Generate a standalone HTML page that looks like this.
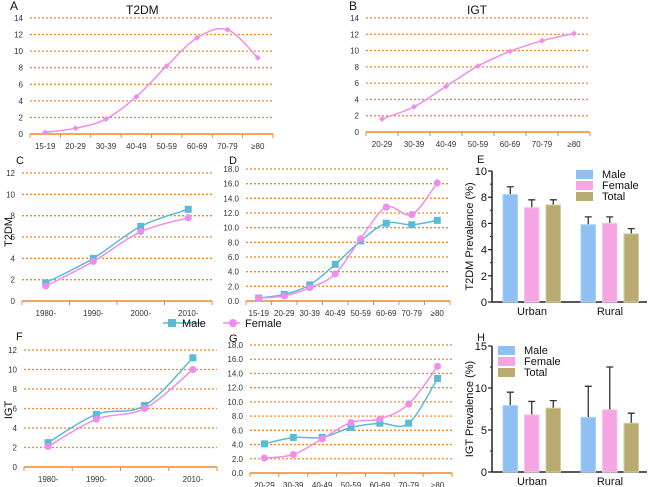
<!DOCTYPE html>
<html><head><meta charset="utf-8"><style>
body{margin:0;background:#fff}
svg{display:block;font-family:"Liberation Sans",sans-serif}
</style></head><body>
<svg id="fig" width="650" height="487" viewBox="0 0 650 487"></svg>
<script>
const agesA=["15-19","20-29","30-39","40-49","50-59","60-69","70-79","≥80"];
const t2dmA=[0.2,0.7,1.8,4.5,8.2,11.6,12.6,9.2];
const agesB=["20-29","30-39","40-49","50-59","60-69","70-79","≥80"];
const igtB=[1.6,3.1,5.6,8.1,9.9,11.2,12.1];
const decades=["1980-","1990-","2000-","2010-"];
const t2dmCMale=[1.7,4.0,7.0,8.6];
const t2dmCFemale=[1.4,3.7,6.5,7.8];
const t2dmDMale=[0.4,0.9,2.2,5.0,8.2,10.6,10.4,11.0];
const t2dmDFemale=[0.4,0.7,1.8,3.7,8.5,12.8,11.8,16.1];
const igtFMale=[2.5,5.4,6.3,11.2];
const igtFFemale=[2.1,4.9,6.0,10.0];
const igtGMale=[4.1,5.0,5.0,6.4,7.0,7.0,13.3];
const igtGFemale=[2.1,2.6,4.8,7.1,7.6,9.7,15.0];
const areas=["Urban","Rural"];
const groups=["Male","Female","Total"];
const t2dmEVals=[[8.2,7.2,7.4],[5.9,6.0,5.2]];
const t2dmEErr=[[8.8,7.8,7.8],[6.5,6.5,5.6]];
const igtHVals=[[7.9,6.8,7.6],[6.5,7.4,5.8]];
const igtHErr=[[9.5,8.4,8.5],[10.2,12.5,7.0]];

const NS="http://www.w3.org/2000/svg";
const svg=document.getElementById('fig');
function mk(tag,attrs,parent,text){const e=document.createElementNS(NS,tag);for(const k in attrs)e.setAttribute(k,attrs[k]);if(text!==undefined)e.textContent=text;(parent||svg).appendChild(e);return e;}
const ORANGE="#f0882a",PINK="#f08cec",CYAN="#5bbad6";
function smooth(pts){let d="M"+pts[0][0]+","+pts[0][1];for(let i=0;i<pts.length-1;i++){const p0=pts[i-1]||pts[i],p1=pts[i],p2=pts[i+1],p3=pts[i+2]||p2;const c1=[p1[0]+(p2[0]-p0[0])/6,p1[1]+(p2[1]-p0[1])/6],c2=[p2[0]-(p3[0]-p1[0])/6,p2[1]-(p3[1]-p1[1])/6];d+=" C"+c1[0]+","+c1[1]+" "+c2[0]+","+c2[1]+" "+p2[0]+","+p2[1];}return d;}

function lineChart(o){
  const g=mk('g',{},svg);
  
  
  const ys=v=>o.y0-(v/o.ymax)*(o.y0-o.y1);
  const n=o.cats.length,step=(o.xr-o.xl)/n;
  const xs=i=>o.xl+step*(i+0.5);
  for(let v=o.tick;v<=o.ymax+1e-9;v+=o.tick){
    const gl=mk('line',{x1:o.xl,x2:o.xr,y1:ys(v),y2:ys(v),stroke:ORANGE,'stroke-width':1.3,'stroke-dasharray':'2,2'},g);
    
    
  }
  for(let v=0;v<=o.ymax+1e-9;v+=o.tick){
    const t=mk('text',{x:o.xl-7,y:ys(v)+3,'font-size':8,'text-anchor':'end',fill:'#333'},g,o.dec?v.toFixed(1):v);
    
    
  }
  const ax=mk('line',{x1:o.xl,x2:o.xr,y1:o.y0,y2:o.y0,stroke:ORANGE,'stroke-width':1.5},g);
  
  
  for(let i=0;i<=n;i++)mk('line',{x1:o.xl+step*i,x2:o.xl+step*i,y1:o.y0,y2:o.y0+4,stroke:ORANGE,'stroke-width':1},g);
  o.cats.forEach((c,i)=>{
    const t=mk('text',{x:xs(i),y:o.y0+15,'font-size':8,'text-anchor':'middle',fill:'#333'},g,c);
    
    
  });
  o.series.forEach(s=>{
    const pts=s.vals.map((v,i)=>[xs(i),ys(v)]);
    const p=mk('path',{d:smooth(pts),fill:'none',stroke:s.color,'stroke-width':1.5},g);
    
    
    pts.forEach(pt=>{
      let m;
      if(s.marker==='sq')m=mk('rect',{x:pt[0]-3.5,y:pt[1]-3.5,width:7,height:7,fill:s.color},g);
      else if(s.marker==='dia')m=mk('path',{d:`M${pt[0]},${pt[1]-3}L${pt[0]+3},${pt[1]}L${pt[0]},${pt[1]+3}L${pt[0]-3},${pt[1]}Z`,fill:s.color},g);
      else m=mk('circle',{cx:pt[0],cy:pt[1],r:3.5,fill:s.color},g);
      
      
    });
  });
}
function label(x,y,t,size,name){const e=mk('text',{x:x,y:y,'font-size':size||12,fill:'#111'},svg,t);return e;}

function barChart(o){
  const g=mk('g',{},svg);
  
  
  const ys=v=>o.y0-(v/o.ymax)*(o.y0-o.y1);
  const colors=["#8ec0f4","#f5a6e2","#b9aa72"],edge=["#a9d0f8","#f8c0ec","#d6cc96"];
  const ay=mk('line',{x1:o.x0,x2:o.x0,y1:o.y1,y2:o.y0,stroke:'#222','stroke-width':1.5},g);
  
  const ax=mk('line',{x1:o.x0,x2:647,y1:o.y0,y2:o.y0,stroke:'#222','stroke-width':1.5},g);
  
  for(let v=0;v<=o.ymax+1e-9;v+=o.minor)mk('line',{x1:o.x0-2,x2:o.x0,y1:ys(v),y2:ys(v),stroke:'#222'},g);
  for(let v=0;v<=o.ymax+1e-9;v+=o.tick){
    mk('line',{x1:o.x0-4,x2:o.x0,y1:ys(v),y2:ys(v),stroke:'#222','stroke-width':1.2},g);
    const t=mk('text',{x:o.x0-5,y:ys(v)+4,'font-size':11,'text-anchor':'end',fill:'#111'},g,v);
    
  }
  const groupStart=[503,581];
  o.vals.forEach((arr,ai)=>{
    arr.forEach((v,gi)=>{
      const x=groupStart[ai]+gi*21.5,w=14.5;
      const eb=mk('path',{d:`M${x+w/2},${ys(v)}V${ys(o.err[ai][gi])}M${x+w/2-3.5},${ys(o.err[ai][gi])}H${x+w/2+3.5}`,stroke:'#333','stroke-width':1.3,fill:'none'},g);
      
      const r=mk('rect',{x:x,y:ys(v),width:w,height:o.y0-ys(v),fill:colors[gi],stroke:edge[gi],'stroke-width':1},g);
      
      
    });
    const t=mk('text',{x:groupStart[ai]+29,y:o.y0+13,'font-size':11,'text-anchor':'middle',fill:'#111'},g,areas[ai]);
    
  });
  const yt=mk('text',{transform:`translate(${o.x0-19},${(o.y0+o.y1)/2}) rotate(-90)`,'font-size':11,'text-anchor':'middle',fill:'#111'},g,o.ytitle);
  
  groups.forEach((gname,gi)=>{
    const ly=o.ly+gi*11;
    const sw=mk('rect',{x:o.lx,y:ly-4,width:17,height:9,fill:colors[gi]},g);
    
    const lt=mk('text',{x:o.lx+26,y:ly+4,'font-size':11,fill:'#111'},g,gname);
    
  });
}

label(10,10,"A",12,"panel-label-a");
label(126,14,"T2DM",12,"chart-title-a");
lineChart({name:'chart-a',cats:agesA,xl:30,xr:273,y0:134,y1:18,ymax:14,tick:2,series:[{name:'t2dm',vals:t2dmA,color:PINK,marker:'dia'}]});
label(349,10,"B",12,"panel-label-b");
label(467,14,"IGT",12,"chart-title-b");
lineChart({name:'chart-b',cats:agesB,xl:366,xr:590,y0:132,y1:18,ymax:14,tick:2,series:[{name:'igt',vals:igtB,color:PINK,marker:'dia'}]});
label(16,164,"C",11,"panel-label-c");
lineChart({name:'chart-c',cats:decades,xl:22,xr:212,y0:301,y1:173,ymax:12,tick:2,series:[{name:'male',vals:t2dmCMale,color:CYAN,marker:'sq'},{name:'female',vals:t2dmCFemale,color:PINK,marker:'ci'}]});
{const t=mk('text',{transform:'translate(12,232) rotate(-90)','font-size':11,'text-anchor':'middle',fill:'#111'},svg,"T2DM");}
label(229,164,"D",11,"panel-label-d");
lineChart({name:'chart-d',cats:agesA,xl:246,xr:450,y0:301,y1:169,ymax:18,tick:2,dec:true,series:[{name:'male',vals:t2dmDMale,color:CYAN,marker:'sq'},{name:'female',vals:t2dmDFemale,color:PINK,marker:'ci'}]});
{const g=mk('g',{},svg);
mk('line',{x1:163,x2:202,y1:323,y2:323,stroke:CYAN,'stroke-width':1.5},g);mk('rect',{x:168,y:319,width:8,height:8,fill:CYAN},g);
const t1=mk('text',{x:182,y:327,'font-size':11,fill:'#111'},g,"Male");
mk('line',{x1:223,x2:240,y1:323,y2:323,stroke:PINK,'stroke-width':1.5},g);mk('circle',{cx:233,cy:323,r:4,fill:PINK},g);
const t2=mk('text',{x:245,y:327,'font-size':11,fill:'#111'},g,"Female");}
label(477,163,"E",11,"panel-label-e");
barChart({name:'chart-e',x0:492,y0:302,y1:171,ymax:10,tick:2,minor:1,vals:t2dmEVals,err:t2dmEErr,ytitle:"T2DM Prevalence (%)",lx:576,ly:174});
label(16,340,"F",11,"panel-label-f");
lineChart({name:'chart-f',cats:decades,xl:24,xr:217,y0:467,y1:350,ymax:12,tick:2,series:[{name:'male',vals:igtFMale,color:CYAN,marker:'sq'},{name:'female',vals:igtFFemale,color:PINK,marker:'ci'}]});
{const t=mk('text',{transform:'translate(12,410) rotate(-90)','font-size':11,'text-anchor':'middle',fill:'#111'},svg,"IGT");}
label(229,342,"G",11,"panel-label-g");
lineChart({name:'chart-g',cats:agesB,xl:250,xr:452,y0:473,y1:345,ymax:18,tick:2,dec:true,series:[{name:'male',vals:igtGMale,color:CYAN,marker:'sq'},{name:'female',vals:igtGFemale,color:PINK,marker:'ci'}]});
label(477,341,"H",11,"panel-label-h");
barChart({name:'chart-h',x0:492,y0:472,y1:346,ymax:15,tick:5,minor:2.5,vals:igtHVals,err:igtHErr,ytitle:"IGT Prevalence (%)",lx:498,ly:350});
</script>
</body></html>
